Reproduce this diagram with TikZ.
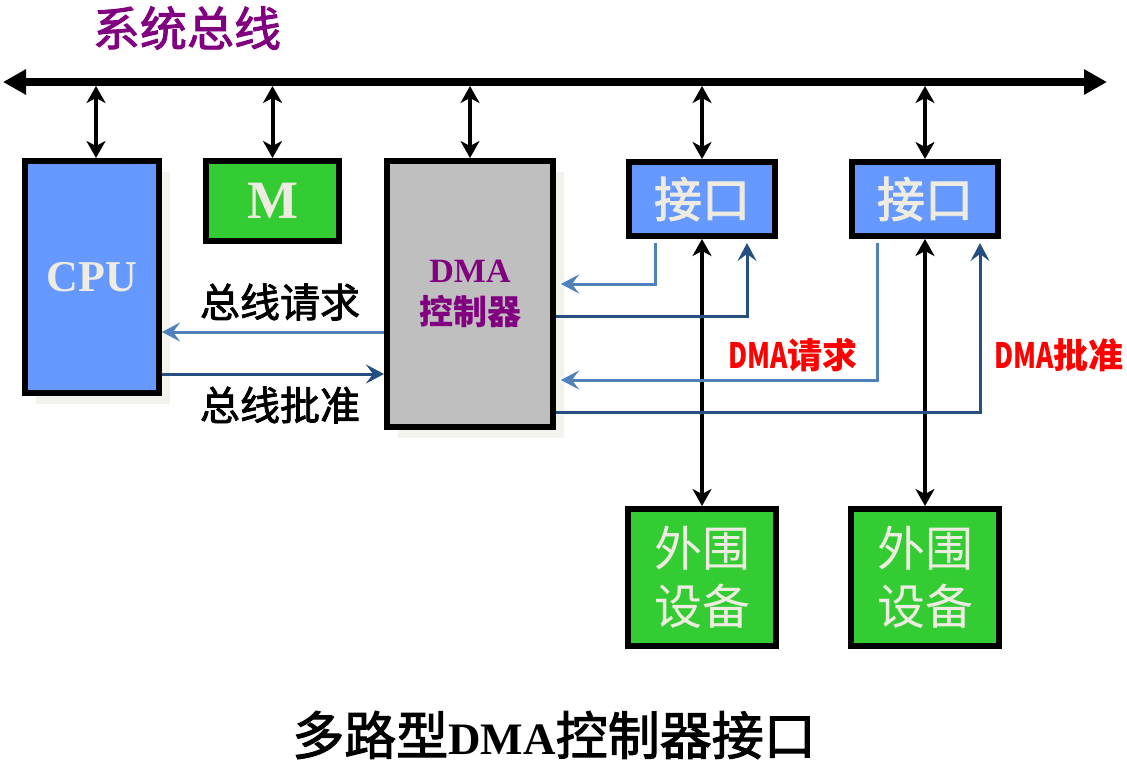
\documentclass[tikz,border=0pt]{standalone}
\usepackage{fontspec}
\setmainfont{Liberation Serif}
\newfontfamily\cjk{Noto Sans CJK SC}
\newfontfamily\cjkmed[FakeBold=2]{Noto Sans CJK SC}
\usetikzlibrary{arrows.meta, shadows}

\definecolor{boxblue}{HTML}{6699FF}
\definecolor{boxgreen}{HTML}{33CC33}
\definecolor{boxgray}{HTML}{BFBFBF}
\definecolor{boxtext}{HTML}{EEECE1}
\definecolor{shadowgray}{HTML}{F3F3ED}
\definecolor{titlepurple}{HTML}{800080}
\definecolor{reqblue}{HTML}{4F81BD}
\definecolor{ackblue}{HTML}{254F80}

\begin{document}
\begin{tikzpicture}[x=1pt, y=-1pt,
    box/.style={draw, line width=6pt, inner sep=0pt, align=center, text=boxtext},
    shadowbox/.style={box, drop shadow={shadow xshift=11pt, shadow yshift=-11pt, fill=shadowgray, opacity=1}},
    bus/.style={<->, >={Triangle[length=23pt, width=24pt]}, line width=8pt},
    dbl/.style={<->, >={Stealth[length=17pt, width=19pt, inset=5pt]}, line width=4pt},
    req/.style={->, >={Stealth[length=18pt, width=19pt, inset=7pt]}, line width=3pt, draw=reqblue},
    ack/.style={req, draw=ackblue},
    label/.style={font=\cjkmed\fontsize{40}{48}\selectfont},
    redlabel/.style={text=red, font=\cjk\bfseries\fontsize{35}{40}\selectfont}
]
    \useasboundingbox (0,0) rectangle (1127,763);

    % 系统总线
    \node[text=titlepurple, font=\cjkmed\fontsize{47}{56}\selectfont] (bustitle) at (187,28) {系统总线};
    \coordinate (busl) at (3,82);
    \coordinate (busr) at (1107,82);
    \coordinate (busb) at (0,86);
    \draw[bus] (busl) -- (busr);

    % CPU, M, DMA 控制器
    \node[shadowbox, fill=boxblue, minimum width=134pt, minimum height=232pt,
          font=\bfseries\fontsize{44}{50}\selectfont] (cpu) at (92,277) {CPU};
    \node[box, fill=boxgreen, minimum width=133pt, minimum height=80pt,
          font=\bfseries\fontsize{54}{60}\selectfont] (mem) at (272.5,201) {M};
    \node[shadowbox, fill=boxgray, minimum width=166pt, minimum height=266pt,
          text=titlepurple, font=\bfseries\fontsize{34}{42}\selectfont] (dma) at (470,294) {DMA\\{\cjk 控制器}};

    % 接口与外围设备
    \node[box, fill=boxblue, minimum width=146pt, minimum height=74pt,
          font=\cjkmed\fontsize{48}{56}\selectfont] (jk1) at (702,199) {接口};
    \node[box, fill=boxblue, minimum width=146pt, minimum height=74pt,
          font=\cjkmed\fontsize{48}{56}\selectfont] (jk2) at (925,199) {接口};
    \node[box, fill=boxgreen, minimum width=148pt, minimum height=137pt,
          font=\cjk\fontsize{48}{58}\selectfont] (dev1) at (702,577.5) {外围\\设备};
    \node[box, fill=boxgreen, minimum width=148pt, minimum height=137pt,
          font=\cjk\fontsize{48}{58}\selectfont] (dev2) at (925,577.5) {外围\\设备};

    % 总线连接
    \coordinate (cpuup) at ([xshift=4pt]cpu.north);
    \draw[dbl] (cpuup |- busb) -- (cpuup);
    \draw[dbl] (mem.north |- busb) -- (mem.north);
    \draw[dbl] (dma.north |- busb) -- (dma.north);
    \draw[dbl] (jk1.north |- busb) -- (jk1.north);
    \draw[dbl] (jk2.north |- busb) -- (jk2.north);
    \draw[dbl] (jk1.south) -- (dev1.north);
    \draw[dbl] (jk2.south) -- (dev2.north);

    % 总线请求 / 总线批准
    \draw[req] ([yshift=-38pt]dma.west) -- ([yshift=-55pt]cpu.east);
    \draw[ack] ([yshift=-97pt]cpu.east) -- ([yshift=-80pt]dma.west);
    \node[label] (busreq) at (280,302) {总线请求};
    \node[label] (busack) at (280,405) {总线批准};

    % DMA请求 / DMA批准
    \draw[req] ([xshift=29pt,yshift=-4pt]jk1.south west) |- ([xshift=5pt,yshift=10pt]dma.east);
    \draw[ack] ([yshift=-22pt]dma.east) -| ([xshift=121pt,yshift=-4pt]jk1.south west);
    \draw[req] ([xshift=28pt,yshift=-4pt]jk2.south west) |- ([xshift=5pt,yshift=-86pt]dma.east);
    \draw[ack] ([yshift=-118pt]dma.east) -| ([xshift=131pt,yshift=-4pt]jk2.south west);
    \node[redlabel] (dmareq) at (793,355) {\scalebox{0.75}[1]{DMA}请求};
    \node[redlabel] (dmaack) at (1059,355) {\scalebox{0.75}[1]{DMA}批准};

    % 图题
    \node[inner sep=0pt] (caption) at (554,735) {{\cjkmed\fontsize{52}{58}\selectfont 多路型}{\bfseries\fontsize{45}{58}\selectfont DMA}{\cjkmed\fontsize{52}{58}\selectfont 控制器接口}};
\end{tikzpicture}
\end{document}
